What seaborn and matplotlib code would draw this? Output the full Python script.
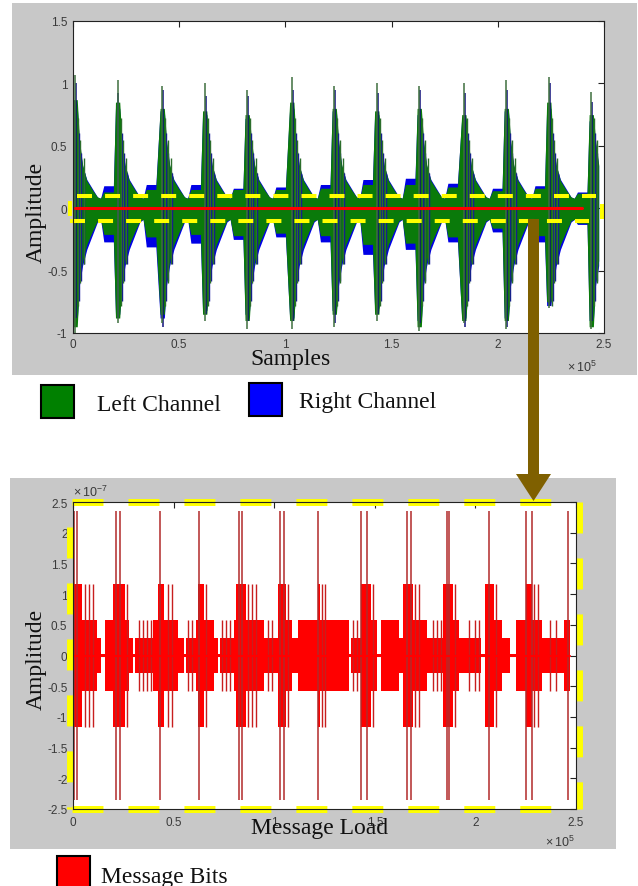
import numpy as np
import matplotlib.pyplot as plt
from matplotlib.patches import Rectangle, FancyArrow
import seaborn as sns

# ---------------- top panel: stereo audio (x in 1e5 samples) ----------------
onsets = [0.0, 0.20, 0.41, 0.61, 0.81, 1.02, 1.22, 1.42, 1.62, 1.83, 2.03, 2.23, 2.43]
signal_end = 2.475

left_peak_hi = [0.87, 0.85, 0.80, 0.78, 0.75, 0.85, 0.80, 0.78, 0.80, 0.75, 0.80, 0.85, 0.75]
left_peak_lo = [-0.95, -0.88, -0.85, -0.85, -0.90, -0.90, -0.85, -0.85, -0.95, -0.90, -0.90, -0.75, -0.95]
right_peak_hi = [0.82, 0.80, 0.78, 0.75, 0.72, 0.80, 0.78, 0.75, 0.75, 0.72, 0.78, 0.80, 0.70]
right_peak_lo = [-0.90, -0.85, -0.88, -0.82, -0.85, -0.88, -0.82, -0.80, -0.90, -0.88, -0.88, -0.78, -0.90]

left_spike_hi = [1.07, 1.03, 0.98, 1.00, 0.95, 1.05, 0.98, 1.00, 0.98, 1.00, 1.03, 1.05, 0.93]
left_spike_lo = [-1.00, -0.92, -0.92, -0.90, -0.97, -0.97, -0.95, -0.90, -0.98, -0.92, -0.97, -0.80, -0.97]
right_spike_hi = [1.00, 0.92, 0.95, 0.90, 0.90, 0.95, 0.95, 0.92, 0.95, 0.92, 0.95, 1.00, 0.85]
right_spike_lo = [-0.88, -0.88, -0.95, -0.85, -0.90, -0.90, -0.92, -0.85, -0.92, -0.95, -0.95, -0.78, -0.90]

left_plat_hi = [0.13, 0.15, 0.15, 0.15, 0.15, 0.16, 0.19, 0.19, 0.17, 0.14, 0.16, 0.12, 0.10]
left_plat_lo = [-0.21, -0.23, -0.21, -0.22, -0.20, -0.22, -0.29, -0.28, -0.23, -0.16, -0.22, -0.12, -0.10]
right_plat_hi = [0.18, 0.19, 0.19, 0.16, 0.17, 0.19, 0.23, 0.24, 0.20, 0.16, 0.18, 0.13, 0.10]
right_plat_lo = [-0.27, -0.31, -0.28, -0.25, -0.23, -0.27, -0.37, -0.33, -0.27, -0.19, -0.27, -0.13, -0.10]

# decay after each hit, read from a typical burst
left_decay_hi = [0.55, 0.35, 0.22, 0.15, 0.09]
left_decay_lo = [-0.60, -0.42, -0.29, -0.19, -0.10]
right_decay_hi = [0.52, 0.34, 0.23, 0.16, 0.09]
right_decay_lo = [-0.62, -0.46, -0.33, -0.22, -0.11]
env_off = [0.0, 0.02, 0.03, 0.045, 0.065, 0.09, 0.115, 0.13, 0.145, 0.19]

# smaller lines inside the decay
sub_off = [0.025, 0.035, 0.05]
left_sub_hi = [0.72, 0.55, 0.40]
left_sub_lo = [-0.78, -0.60, -0.45]
right_sub_hi = [0.60, 0.44, 0.28]
right_sub_lo = [-0.74, -0.58, -0.45]

# ---------------- bottom panel: message bits (x in 1e5, y in 1e-7) ----------------
msg_start = [0.0, 0.045, 0.12, 0.14, 0.16, 0.20, 0.26, 0.28, 0.30, 0.31,
             0.40, 0.42, 0.45, 0.52, 0.55, 0.56, 0.61, 0.62, 0.65, 0.70,
             0.72, 0.73, 0.80, 0.81, 0.86, 0.95, 1.02, 1.06, 1.09, 1.12,
             1.22, 1.23, 1.37, 1.38, 1.43, 1.48, 1.51, 1.53, 1.62, 1.64,
             1.69, 1.76, 1.78, 1.84, 1.89, 1.92, 1.95, 2.03, 2.05, 2.09,
             2.13, 2.17, 2.20, 2.25, 2.28, 2.33, 2.36, 2.44]
msg_level = [1.17, 0.58, 0.29, 0.03, 0.58, 1.17, 0.58, 0.29, 0.03, 0.29,
             0.58, 1.17, 0.58, 0.29, 0.03, 0.29, 0.58, 1.17, 0.58, 0.29,
             0.03, 0.29, 0.58, 1.17, 0.58, 0.29, 1.17, 0.58, 0.29, 0.58,
             1.17, 0.58, 0.03, 0.29, 1.17, 0.58, 0.03, 0.58, 0.29, 1.17,
             0.58, 0.29, 0.29, 1.17, 0.58, 0.29, 0.29, 0.03, 1.17, 0.58,
             0.29, 0.03, 0.58, 1.17, 0.58, 0.29, 0.29, 0.58]
msg_end = 2.47
msg_spikes = [0.005, 0.018, 0.216, 0.236, 0.43, 0.627, 0.827, 0.838, 1.03, 1.05, 1.22,
              1.43, 1.46, 1.66, 1.68, 1.86, 1.87, 2.07, 2.25, 2.28, 2.46]
msg_mid = [0.06, 0.08, 0.10, 0.27, 0.47, 0.49, 0.66, 0.87, 0.89, 0.91, 1.07,
           1.24, 1.25, 1.49, 1.70, 1.72, 1.90, 2.10, 2.29, 2.31]
msg_short = [0.33, 0.35, 0.37, 0.39, 0.57, 0.59, 0.74, 0.76, 0.78, 0.97, 0.99,
             1.39, 1.41, 1.79, 1.81, 1.83, 1.97, 2.00, 2.02, 2.37, 2.40]

top_xticks = [0, 0.5, 1, 1.5, 2, 2.5]
top_xlabels = ['0', '0.5', '1', '1.5', '2', '2.5']
top_yticks = [-1, -0.5, 0, 0.5, 1, 1.5]
top_ylabels = ['-1', '-0.5', '0', '0.5', '1', '1.5']
bot_yticks = [-2.5, -2, -1.5, -1, -0.5, 0, 0.5, 1, 1.5, 2, 2.5]
bot_ylabels = ['-2.5', '-2', '-1.5', '-1', '-0.5', '0', '0.5', '1', '1.5', '2', '2.5']

sns.set_theme(style="white")
plt.rcParams['font.family'] = ['Liberation Sans', 'DejaVu Sans']
plt.rcParams['mathtext.fontset'] = 'custom'
plt.rcParams['mathtext.rm'] = 'Liberation Sans'
plt.rcParams['lines.scale_dashes'] = False
SERIF = ['Liberation Serif', 'DejaVu Serif']


def build_env(peak, decay, plateau, gap):
    xs, ys = [], []
    for i, t in enumerate(onsets):
        vals = [peak[i], peak[i]] + decay + [gap, plateau[i], plateau[i]]
        for off, v in zip(env_off, vals):
            if t + off <= signal_end:
                xs.append(t + off)
                ys.append(v)
    xs.append(signal_end)
    ys.append(0.0)
    return np.array(xs), np.array(ys)


W, H = 638, 887
fig = plt.figure(figsize=(W / 100, H / 100), dpi=100)


def px_rect(x0, y0, x1, y1):
    return [x0 / W, 1 - y1 / H, (x1 - x0) / W, (y1 - y0) / H]


# background canvas in pixel coordinates
bg = fig.add_axes([0, 0, 1, 1], zorder=0)
bg.set_xlim(0, W)
bg.set_ylim(H, 0)
bg.axis('off')
bg.add_patch(Rectangle((12, 4), 625, 372, facecolor='#c8c8c8', lw=0))
bg.add_patch(Rectangle((10, 479), 606, 371, facecolor='#c8c8c8', lw=0))
bg.add_patch(Rectangle((41, 386), 33, 33, facecolor='#008000', edgecolor='black', lw=1.5))
bg.add_patch(Rectangle((249, 384), 33, 33, facecolor='#0000ff', edgecolor='black', lw=1.5))
bg.add_patch(Rectangle((57, 857), 33, 33, facecolor='#ff0000', edgecolor='black', lw=1.5))
bg.text(97, 411, 'Left Channel', family=SERIF, fontsize=17, va='baseline', color='#111111')
bg.text(299, 408, 'Right Channel', family=SERIF, fontsize=17, va='baseline', color='#111111')
bg.text(101, 883, 'Message Bits', family=SERIF, fontsize=17, va='baseline', color='#111111')


def style_axes(ax, xpad):
    ax.set_facecolor('white')
    for s in ax.spines.values():
        s.set_color('#222222')
        s.set_linewidth(0.8)
    ax.tick_params(axis='both', direction='in', length=4, width=0.8, color='#222222',
                   top=True, right=True, labeltop=False, labelright=False,
                   labelsize=8.5, labelcolor='#3a3a3a')
    ax.tick_params(axis='y', pad=4)
    ax.tick_params(axis='x', pad=xpad)


# ---------------- top panel ----------------
ax1 = fig.add_axes(px_rect(73, 22, 604, 334), zorder=1)
style_axes(ax1, 3.5)

rx, r_hi = build_env(right_peak_hi, right_decay_hi, right_plat_hi, 0.08)
_, r_lo = build_env(right_peak_lo, right_decay_lo, right_plat_lo, -0.09)
lx, l_hi = build_env(left_peak_hi, left_decay_hi, left_plat_hi, 0.08)
_, l_lo = build_env(left_peak_lo, left_decay_lo, left_plat_lo, -0.09)

ax1.fill_between(rx, r_lo, r_hi, color='#0000e6', lw=0)
for i, t in enumerate(onsets):
    ax1.vlines(t + 0.014, right_spike_lo[i], right_spike_hi[i], color='#10107a', lw=1.1)
    for k, off in enumerate(sub_off):
        if t + off + 0.004 <= signal_end:
            ax1.vlines(t + off + 0.004, right_sub_lo[k], right_sub_hi[k], color='#1010a0', lw=1.0)
ax1.fill_between(lx, l_lo, l_hi, color='#0a7a0a', lw=0)
for i, t in enumerate(onsets):
    ax1.vlines(t + 0.01, left_spike_lo[i], left_spike_hi[i], color='#3f6f3f', lw=1.1)
    for k, off in enumerate(sub_off):
        if t + off <= signal_end:
            ax1.vlines(t + off, left_sub_lo[k], left_sub_hi[k], color='#2c6e2c', lw=1.0)

# red zero line and yellow dashed window
sns.lineplot(x=[0.01, 2.395], y=[0, 0], color='#ff0000', lw=2.2, ax=ax1)
ydash = dict(color='#ffff00', lw=2.9, solid_capstyle='butt', dash_capstyle='butt', clip_on=False)
ax1.plot([0.019, 2.46], [0.1, 0.1], ls=(0, (10.8, 9.4)), **ydash)
ax1.plot([-0.014, 2.43], [-0.1, -0.1], ls=(0, (10.8, 9.4)), **ydash)
ax1.plot([-0.014, -0.014], [-0.064, 0.056], **ydash)
ax1.plot([2.492, 2.492], [-0.09, 0.03], **ydash)

ax1.set_xlim(0, 2.5)
ax1.set_ylim(-1, 1.5)
ax1.set_xticks(top_xticks, top_xlabels)
ax1.set_yticks(top_yticks, top_ylabels)
ax1.set_xlabel('Samples', family=SERIF, fontsize=17, color='#111111')
ax1.xaxis.set_label_coords(0.41, -0.1)
ax1.xaxis.label.set_va('baseline')
ax1.set_ylabel('Amplitude', family=SERIF, fontsize=17, color='#111111')
ax1.yaxis.set_label_coords(-0.07, 0.39)
ax1.yaxis.label.set_va('center')
ax1.text(0.930, -0.122, r'$\times\,10^{5}$', transform=ax1.transAxes, fontsize=9,
         color='#3a3a3a', va='baseline', ha='left')

# ---------------- bottom panel ----------------
ax2 = fig.add_axes(px_rect(73, 503, 576, 810), zorder=1)
style_axes(ax2, 5)

mx = np.array(msg_start + [msg_end])
my = np.array(msg_level + [msg_level[-1]])
ax2.vlines(msg_spikes, -2.35, 2.35, color='#b22a2a', lw=1.1)
ax2.vlines(msg_mid, -1.17, 1.17, color='#c81e1e', lw=1.0)
ax2.vlines(msg_short, -0.58, 0.58, color='#c81e1e', lw=1.0)
ax2.fill_between(mx, -my, my, step='post', color='#ff0000', lw=0)
sns.lineplot(x=[0.0, msg_end], y=[0, 0], color='#ff0000', lw=1.5, ax=ax2)

bdash = dict(color='#ffff00', lw=5.0, solid_capstyle='butt', dash_capstyle='butt', clip_on=False)
ax2.plot([-0.005, 2.43], [2.5, 2.5], ls=(0, (22.3, 18.0)), **bdash)
ax2.plot([-0.005, 2.43], [-2.5, -2.5], ls=(0, (22.3, 18.0)), **bdash)
ax2.plot([-0.013, -0.013], [2.5, -2.5], ls=(22.3, (22.3, 18.0)), **bdash)
ax2.plot([2.515, 2.515], [2.5, -2.5], ls=(0, (22.3, 18.0)), **bdash)

ax2.set_xlim(0, 2.5)
ax2.set_ylim(-2.5, 2.5)
ax2.set_xticks(top_xticks, top_xlabels)
ax2.set_yticks(bot_yticks, bot_ylabels)
ax2.set_xlabel('Message Load', family=SERIF, fontsize=17, color='#111111')
ax2.xaxis.set_label_coords(0.491, -0.078)
ax2.xaxis.label.set_va('baseline')
ax2.set_ylabel('Amplitude', family=SERIF, fontsize=17, color='#111111')
ax2.yaxis.set_label_coords(-0.0726, 0.489)
ax2.yaxis.label.set_va('center')
ax2.text(0.938, -0.12, r'$\times\,10^{5}$', transform=ax2.transAxes, fontsize=9,
         color='#3a3a3a', va='baseline', ha='left')
ax2.text(0.0, 1.02, r'$\times\,10^{-7}$', transform=ax2.transAxes, fontsize=9,
         color='#3a3a3a', va='baseline', ha='left')

# brown arrow from the top window down to the zoomed panel
over = fig.add_axes([0, 0, 1, 1], zorder=3)
over.set_xlim(0, W)
over.set_ylim(H, 0)
over.axis('off')
over.add_patch(FancyArrow(533.5, 220, 0, 282, width=11, head_width=35, head_length=27,
                          length_includes_head=True, color='#7f6000', lw=0))

fig.savefig('out.png', dpi=100)
